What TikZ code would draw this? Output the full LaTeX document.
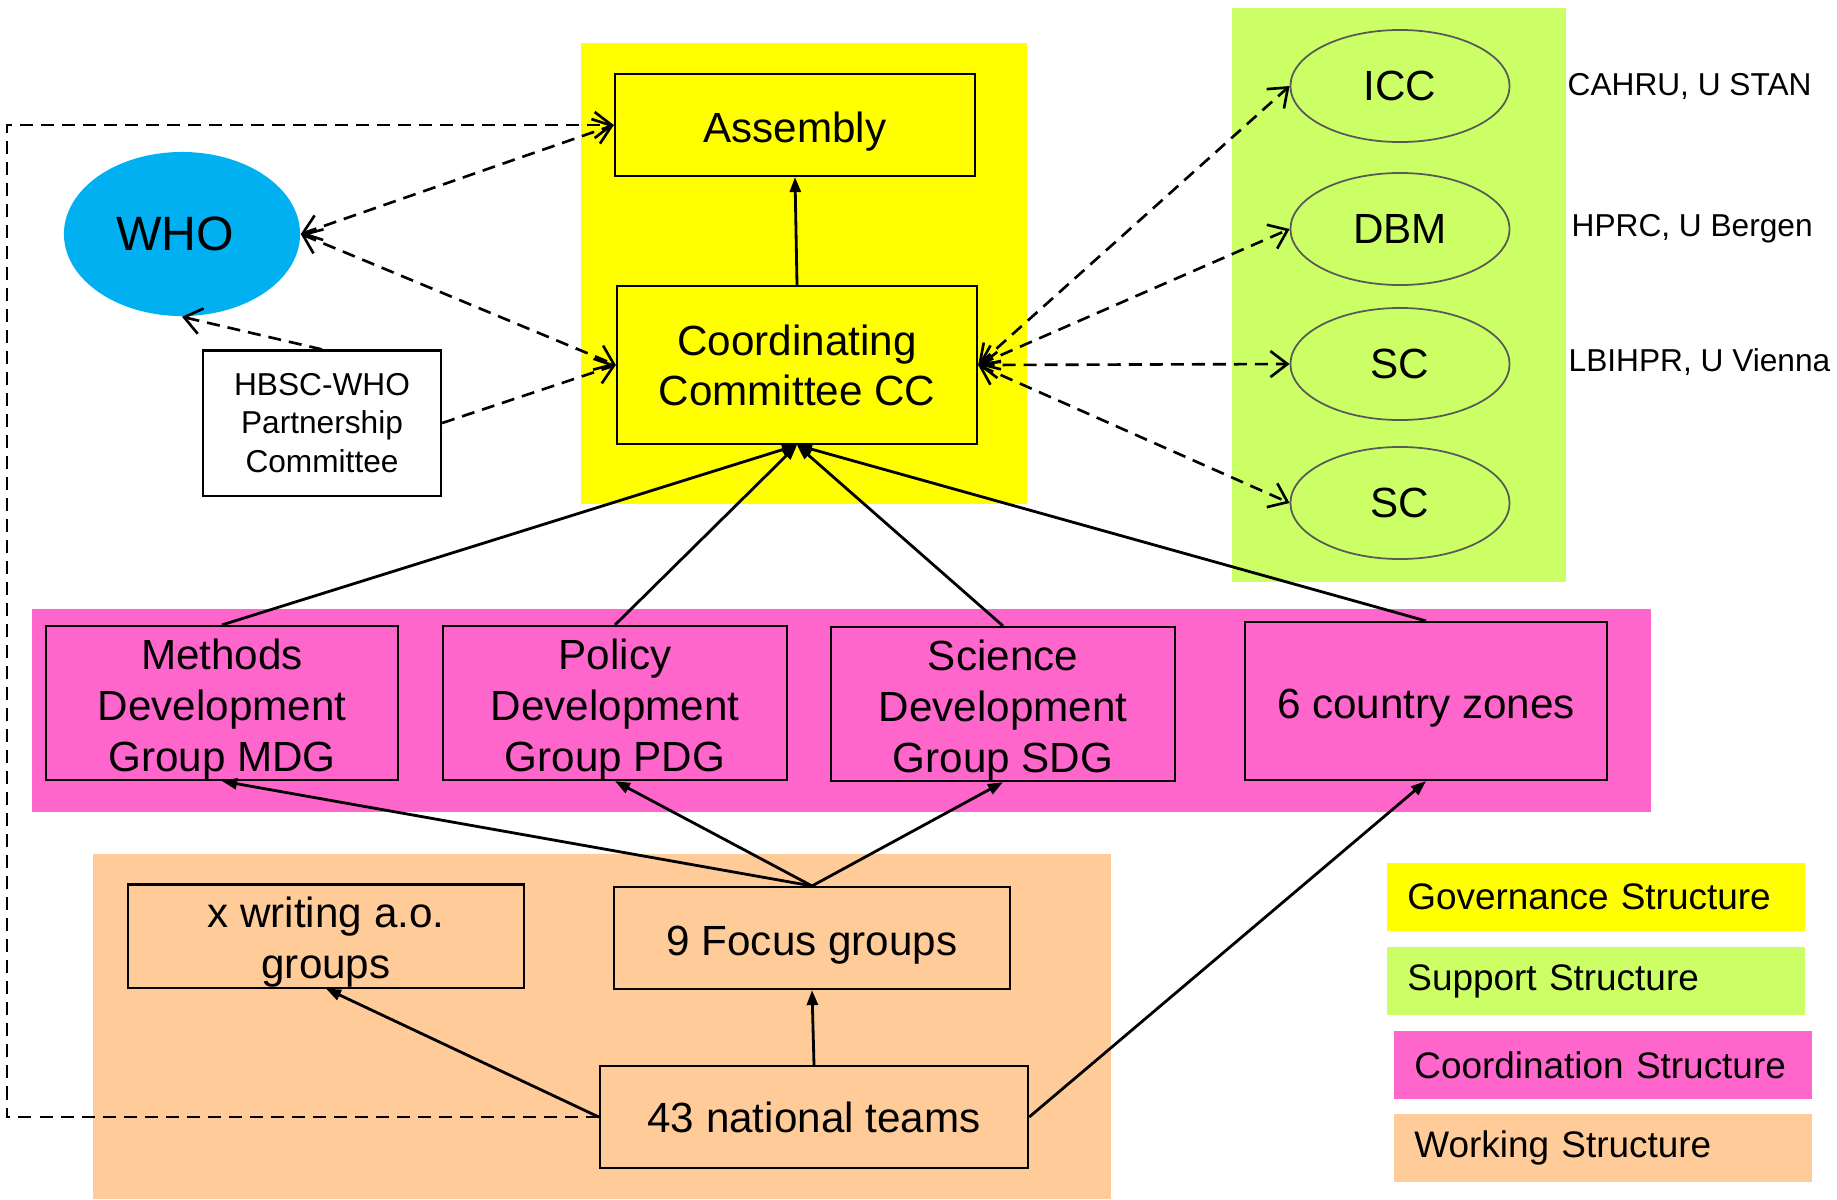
\documentclass[tikz,border=0pt]{standalone}
\usepackage{fontspec}
\setmainfont{Liberation Sans}
\usepackage{xcolor}
\usepackage{tikz}
\usetikzlibrary{shapes.geometric, arrows.meta}
\definecolor{govyellow}{HTML}{FFFF00}
\definecolor{supgreen}{HTML}{CCFF66}
\definecolor{coopink}{HTML}{FF66CC}
\definecolor{wrkorange}{HTML}{FFCC99}
\definecolor{whoblue}{HTML}{00B0F0}
\newcommand{\boxstrut}{\rule{0pt}{12.2pt}}
\tikzstyle{groupbox} = [rectangle, draw=black, line width=0.6pt, inner sep=0pt, align=center, font=\fontsize{12}{14.5}\selectfont]
\tikzstyle{suppell} = [ellipse, draw=black!65, line width=0.5pt, inner sep=0pt, minimum width=2.19cm, minimum height=1.12cm, font=\fontsize{12}{14.2}\selectfont]
\tikzstyle{sidelabel} = [anchor=west, inner sep=0pt, font=\fontsize{9}{11}\selectfont]
\tikzstyle{legendbox} = [rectangle, inner xsep=0.2cm, inner ysep=0pt, text width=3.77cm, minimum height=0.68cm, align=left, font=\fontsize{10.5}{12.6}\selectfont]
\tikzstyle{dasharrow} = [line width=0.75pt, dash pattern=on 1.3mm off 0.8mm, {Straight Barb[length=1.7mm,width=2.6mm]}-{Straight Barb[length=1.7mm,width=2.6mm]}]
\tikzstyle{onearrow} = [line width=0.75pt, dash pattern=on 1.3mm off 0.8mm, -{Straight Barb[length=1.7mm,width=2.6mm]}]
\tikzstyle{solidarrow} = [line width=0.8pt, -{Triangle[length=1.5mm,width=1.1mm]}]

\begin{document}
\begin{tikzpicture}[x=0.01cm, y=-0.01cm]
    \useasboundingbox (0,0) rectangle (1837,1199);

    % Structure panels
    \fill[govyellow] (581,43) rectangle (1027,504);
    \fill[supgreen] (1232,8) rectangle (1566,582);
    \fill[coopink] (32,609) rectangle (1651,812);
    \fill[wrkorange] (93,854) rectangle (1111,1199);

    % Governance
    \node (assembly) [groupbox, minimum width=3.60cm, minimum height=1.02cm] at (795,125) {\boxstrut Assembly};
    \node (coord) [groupbox, minimum width=3.60cm, minimum height=1.58cm, font=\fontsize{12}{14.2}\selectfont] at (797,365) {Coordinating\\Committee CC};
    \node (who) [ellipse, fill=whoblue, minimum width=2.36cm, minimum height=1.64cm, inner sep=0pt, font=\fontsize{13.7}{16}\selectfont] at (182,234) {WHO\kern0.14cm};
    \node (hbsc) [groupbox, fill=white, minimum width=2.38cm, minimum height=1.45cm, font=\fontsize{9}{10.9}\selectfont] at (322,423) {HBSC-WHO\\Partnership\\Committee};

    % Support
    \node (icc) [suppell] at (1400,86) {ICC};
    \node (dbm) [suppell] at (1400,229) {DBM};
    \node (sca) [suppell] at (1400,364) {SC};
    \node (scb) [suppell] at (1400,503) {SC};
    \node (cahru) [sidelabel] at (1567,86) {CAHRU, U STAN};
    \node (hprc) [sidelabel] at (1571,229) {HPRC, U Bergen};
    \node (lbihpr) [sidelabel] at (1568,362) {LBIHPR, U Vienna};

    % Coordination
    \node (mdg) [groupbox, minimum width=3.52cm, minimum height=1.54cm] at (222,703) {\boxstrut Methods\\Development\\Group MDG};
    \node (pdg) [groupbox, minimum width=3.43cm, minimum height=1.54cm] at (615,703) {\boxstrut Policy\\Development\\Group PDG};
    \node (sdg) [groupbox, minimum width=3.44cm, minimum height=1.54cm] at (1003,704) {\boxstrut Science\\Development\\Group SDG};
    \node (zones) [groupbox, minimum width=3.61cm, minimum height=1.58cm] at (1426,701) {\boxstrut 6 country zones};

    % Working
    \node (writing) [groupbox, minimum width=3.96cm, minimum height=1.03cm] at (326,936) {\boxstrut x writing a.o.\\groups};
    \node (focus) [groupbox, minimum width=3.95cm, minimum height=1.02cm] at (812,938) {\boxstrut 9 Focus groups};
    \node (national) [groupbox, minimum width=4.28cm, minimum height=1.02cm] at (814,1117) {43 national teams};
    \coordinate (lft) at (7,600);

    % Legend
    \node (leggov) [legendbox, fill=govyellow] at (1596,897) {Governance Structure};
    \node (legsup) [legendbox, fill=supgreen] at (1596,981) {Support Structure};
    \node (legcoo) [legendbox, fill=coopink] at (1603,1065) {Coordination Structure};
    \node (legwrk) [legendbox, fill=wrkorange] at (1603,1148) {Working Structure};

    % Dashed links
    \draw [dasharrow] (who.east) -- (assembly.west);
    \draw [dasharrow] (who.east) -- (coord.west);
    \draw [onearrow] (hbsc.north) -- (who.south);
    \draw [onearrow] (hbsc.east) -- (coord.west);
    \draw [onearrow] (national.west) -| (lft) |- (assembly.west);
    \draw [dasharrow] (coord.east) -- (icc.west);
    \draw [dasharrow] (coord.east) -- (dbm.west);
    \draw [dasharrow] (coord.east) -- (sca.west);
    \draw [dasharrow] (coord.east) -- (scb.west);

    % Reporting lines
    \draw [solidarrow] (coord.north) -- (assembly.south);
    \draw [solidarrow] (mdg.north) -- (coord.south);
    \draw [solidarrow] (pdg.north) -- (coord.south);
    \draw [solidarrow] (sdg.north) -- (coord.south);
    \draw [solidarrow] (zones.north) -- (coord.south);
    \draw [solidarrow] (focus.north) -- (mdg.south);
    \draw [solidarrow] (focus.north) -- (pdg.south);
    \draw [solidarrow] (focus.north) -- (sdg.south);
    \draw [solidarrow] (national.north) -- (focus.south);
    \draw [solidarrow] (national.west) -- (writing.south);
    \draw [solidarrow] (national.east) -- (zones.south);

\end{tikzpicture}
\end{document}
